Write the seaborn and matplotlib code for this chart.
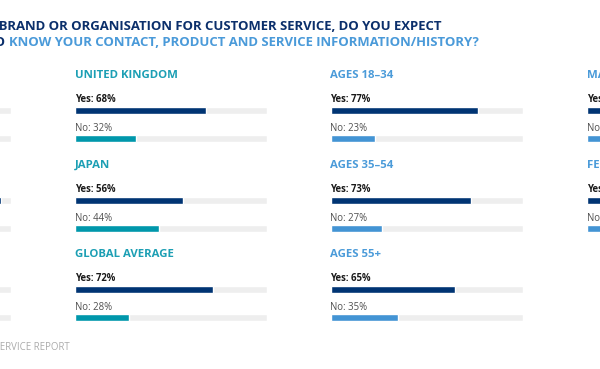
import numpy as np
import pandas as pd
import matplotlib
matplotlib.use("Agg")
import matplotlib.pyplot as plt
import seaborn as sns

# Data, one small list per column of the infographic (col 1 and col 4 are cut by the crop)
col1_names = ["UNITED STATES", "BRAZIL", "GERMANY"]
col1_yes = [80, 95, 78]
col1_no = [20, 5, 22]

col2_names = ["UNITED KINGDOM", "JAPAN", "GLOBAL AVERAGE"]
col2_yes = [68, 56, 72]
col2_no = [32, 44, 28]

col3_names = ["AGES 18–34", "AGES 35–54", "AGES 55+"]
col3_yes = [77, 73, 65]
col3_no = [23, 27, 35]

col4_names = ["MALE", "FEMALE"]
col4_yes = [73, 70]
col4_no = [27, 30]

title_dark = "WHEN CONTACTING A BRAND OR ORGANISATION FOR CUSTOMER SERVICE, DO YOU EXPECT"
title_dark2 = "THE REPRESENTATIVE TO"
title_light = "KNOW YOUR CONTACT, PRODUCT AND SERVICE INFORMATION/HISTORY?"
footer = "STATE OF GLOBAL CUSTOMER SERVICE REPORT"

NAVY = "#003473"
TEAL = "#0097ab"
LIGHT = "#4394d4"
TEAL_HEAD = "#1c9fb4"
LIGHT_HEAD = "#4b9bd9"
TRACK = "#eeeeee"

sns.set_theme(style="white")
plt.rcParams["font.family"] = ["Open Sans", "DejaVu Sans"]

W, H = 600, 369
fig = plt.figure(figsize=(6, 3.69), dpi=100)
fig.patch.set_facecolor("white")

# full-figure pixel axes for the free text
bg = fig.add_axes([0, 0, 1, 1])
bg.set_xlim(0, W)
bg.set_ylim(H, 0)
bg.axis("off")

BAR_H = 6.7
ROW_GAP = 28.0
GROUP_GAP = 89.5
FIRST_YES = 110.7
COL_W = 192.0


def draw_column(x0, names, yes, no, accent, head_color):
    ax = fig.add_axes([x0 / W, 0, COL_W / W, 1])
    ax.set_facecolor("none")
    yes_pos = [FIRST_YES + GROUP_GAP * i for i in range(len(names))]
    no_pos = [p + ROW_GAP for p in yes_pos]
    df = pd.DataFrame({
        "pos": yes_pos + no_pos,
        "value": list(yes) + list(no),
        "answer": ["Yes"] * len(yes) + ["No"] * len(no),
    })
    width = BAR_H / ROW_GAP
    # grey track, then the answer bar on top
    sns.barplot(data=df, x=[100] * len(df), y="pos", orient="h", native_scale=True,
                color=TRACK, width=width, errorbar=None, saturation=1, ax=ax)
    sns.barplot(data=df, x="value", y="pos", hue="answer", orient="h", native_scale=True,
                palette={"Yes": NAVY, "No": accent}, dodge=False, width=width,
                errorbar=None, saturation=1, legend=False, ax=ax)
    ax.set_xlim(0, 100)
    ax.set_ylim(H, 0)
    ax.axis("off")
    for name, yp, npos, yv, nv in zip(names, yes_pos, no_pos, yes, no):
        ax.text(0, yp - 32.6, name, fontsize=8.2, fontweight="bold", color=head_color,
                va="baseline", ha="left")
        ax.text(0, yp - 8.6, f"Yes: {yv}%", fontsize=6.9, fontweight="bold", color="#1a1a1a",
                va="baseline", ha="left")
        ax.text(0, npos - 7.6, f"No: {nv}%", fontsize=6.9, color="#505050",
                va="baseline", ha="left")


draw_column(-181, col1_names, col1_yes, col1_no, TEAL, TEAL_HEAD)
draw_column(75, col2_names, col2_yes, col2_no, TEAL, TEAL_HEAD)
draw_column(330.5, col3_names, col3_yes, col3_no, LIGHT, LIGHT_HEAD)
draw_column(587, col4_names, col4_yes, col4_no, LIGHT, LIGHT_HEAD)

# title lines
bg.text(442, 30.5, title_dark, fontsize=9.45, fontweight="bold", color="#0b2f6b",
        ha="right", va="baseline")
bg.text(5.5, 46.5, title_dark2, fontsize=9.45, fontweight="bold", color="#0b2f6b",
        ha="right", va="baseline")
bg.text(9, 46.5, title_light, fontsize=9.45, fontweight="bold", color="#4a9ad9",
        ha="left", va="baseline")

# footer
bg.text(70, 350, footer, fontsize=6.9, color="#ababab", ha="right", va="baseline")

fig.savefig("out.png", dpi=100, facecolor="white")
